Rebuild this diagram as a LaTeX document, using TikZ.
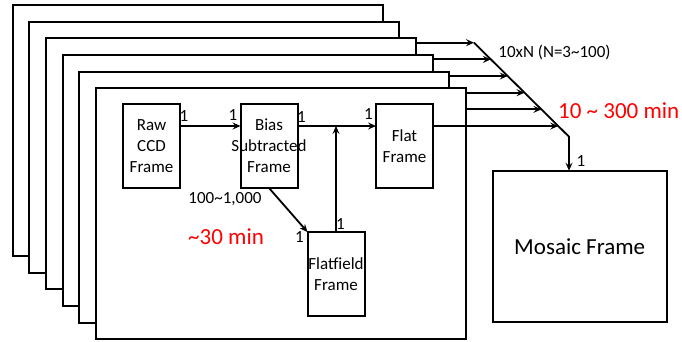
\documentclass[tikz,border=0pt]{standalone}
\usepackage{fontspec}
\setmainfont{Carlito}
\usetikzlibrary{arrows.meta,positioning,calc}

\begin{document}
\begin{tikzpicture}[
  x=1pt, y=-1pt,
  font=\fontsize{17}{20.8}\selectfont,
  sheet/.style={draw, fill=white, line width=2pt, minimum width=370pt, minimum height=251pt, inner sep=0pt},
  box/.style={draw, line width=2pt, minimum width=57pt, minimum height=84pt, inner sep=0pt, outer sep=0pt},
  boxtext/.style={align=center, inner sep=0pt},
  arr/.style={-{Stealth[length=8pt,width=7pt,inset=3pt]}, line width=1.8pt},
  num/.style={inner sep=0pt},
  redtext/.style={text=red, inner sep=0pt, font=\fontsize{23}{27}\selectfont}
]
\useasboundingbox (0,0) rectangle (682,342);
% stack of exposures, back to front
\foreach \i in {1,...,6}
  \node[sheet, anchor=north west] (f\i) at ({11.8+(\i-1)*16.65}, {4+(\i-1)*16.65}) {};

\node[box, label={[boxtext]center:Raw\\CCD\\Frame}] (raw) at (151.5,146) {};
\node[box, right=60.5pt of raw, label={[boxtext]center:Bias\\Subtracted\\Frame}] (bias) {};
\node[box, right=78.5pt of bias, label={[boxtext]center:Flat\\Frame}] (flat) {};
\node[box, label={[boxtext]center:Flatfield\\Frame}] (ffield) at (336,274) {};
\node[draw, line width=2pt, outer sep=0pt, minimum width=174pt, minimum height=151pt] (mosaic) at (579.7,246.2) {\fontsize{23}{27}\selectfont Mosaic Frame};

\draw[arr] ([yshift=20pt]raw.east) -- ([yshift=20pt]bias.west);
\draw[arr] ([yshift=20pt]bias.east) coordinate (bout) -- ([yshift=20pt]flat.west);
\draw[arr] (ffield.north) -- (ffield.north |- bout);
\draw[arr] (bias.south) -- (ffield.north west);

% frames merged into the mosaic
\coordinate (top) at (474,42.7);
\coordinate (bend) at (569,136.7);
\foreach \k/\src in {0/f3,1/f4,2/f5,3/f6,4/f6,5/flat} {
  \coordinate (hit\k) at ($(top)!{\k*0.1773}!(bend)$);
  \draw[arr] (\src.east |- hit\k) -- (hit\k);
}
\draw[arr] (top) -- (bend) -- (bend |- mosaic.north);

\node[num] (n1) at (184,116) {1};
\node[num] (n2) at (233,115) {1};
\node[num] (n3) at (301.5,117.5) {1};
\node[num] (n4) at (368.5,114.5) {1};
\node[num] (n5) at (299.5,237) {1};
\node[num] (n6) at (340.5,224) {1};
\node[num] (n7) at (581,161) {1};

\node (cnt) at (225,199) {100\textasciitilde 1,000};
\node[redtext] (t30) at (226,237) {\textasciitilde 30 min};
\node (stack) at (554.5,52) {10xN (N=3\textasciitilde 100)};
\node[redtext, anchor=west] (t300) at (558,111) {10 \textasciitilde{} 300 min};
\end{tikzpicture}
\end{document}
